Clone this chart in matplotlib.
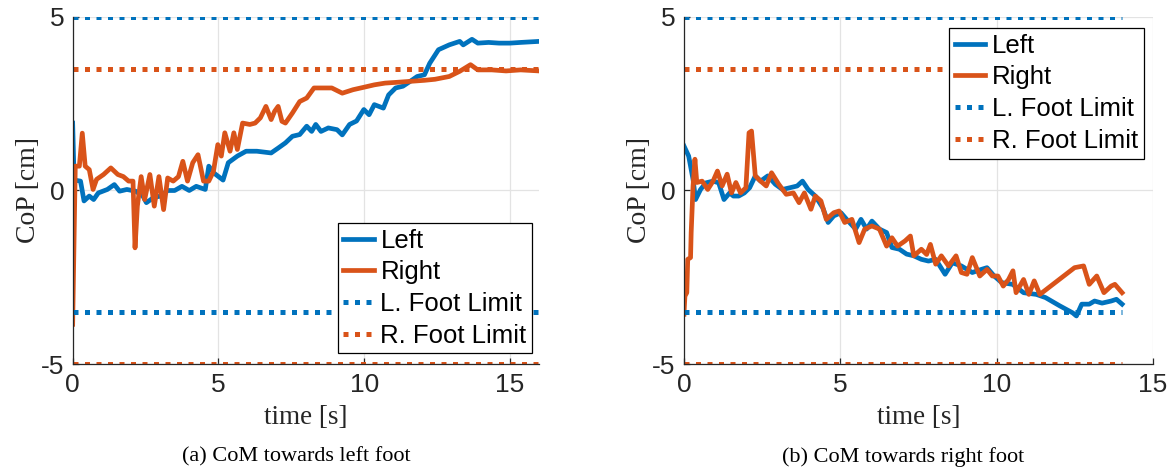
import matplotlib
matplotlib.use("Agg")
import matplotlib.pyplot as plt

# ---- data: (a) CoM towards left foot ----
t_a = [0.0, 0.05, 0.27, 0.39, 0.57, 0.72, 0.88, 1.19, 1.43, 1.61, 1.86, 2.16, 2.41, 2.53, 2.78,
       3.02, 3.26, 3.5, 3.75, 4.0, 4.24, 4.55, 4.67, 4.85, 5.16, 5.34, 5.65, 5.95, 6.32, 6.81,
       7.05, 7.3, 7.54, 7.79, 8.03, 8.2, 8.34, 8.52, 8.77, 9.07, 9.25, 9.5, 9.74, 9.99, 10.17,
       10.35, 10.66, 10.84, 11.08, 11.33, 11.58, 11.82, 12.07, 12.25, 12.55, 12.92, 13.28, 13.4,
       13.7, 13.9, 14.27, 14.63, 15.0, 15.37, 16.0]
left_a = [1.94, 0.3, 0.27, -0.3, -0.16, -0.26, -0.07, 0.03, 0.17, -0.02, 0.03, -0.02, -0.16, -0.35,
          -0.2, -0.16, 0.0, 0.0, 0.12, 0.0, 0.12, 0.03, 0.7, 0.5, 0.3, 0.8, 0.99, 1.13, 1.13, 1.08,
          1.22, 1.37, 1.56, 1.61, 1.85, 1.7, 1.9, 1.7, 1.8, 1.75, 1.6, 1.9, 2.0, 2.33, 2.18,
          2.47, 2.37, 2.75, 2.95, 3.0, 3.14, 3.28, 3.33, 3.66, 4.05, 4.19, 4.29, 4.19,
          4.35, 4.24, 4.26, 4.24, 4.24, 4.26, 4.29]
tr_a = [0.0, 0.09, 0.23, 0.33, 0.43, 0.57, 0.7, 0.82, 1.06, 1.31, 1.55, 1.74, 1.92, 2.07, 2.14,
        2.22, 2.35, 2.47, 2.65, 2.8, 2.96, 3.12, 3.26, 3.45, 3.63, 3.78, 3.94, 4.12, 4.3, 4.49,
        4.67, 4.83, 4.98, 5.1, 5.22, 5.4, 5.53, 5.65, 5.83, 6.08, 6.26, 6.44, 6.63, 6.81, 6.93,
        7.05, 7.18, 7.3, 7.54, 7.79, 8.03, 8.28, 8.52, 8.89, 9.25, 9.62, 9.99, 10.35, 10.72,
        11.08, 11.58, 12.07, 12.43, 12.92, 13.28, 13.65, 13.9, 14.38, 14.87, 15.37, 16.0]
right_a = [-3.85, 0.7, 0.7, 1.65, 0.7, 0.6, 0.03, 0.32, 0.46, 0.65, 0.46, 0.4, 0.27, 0.27, -1.65,
           -0.45, 0.4, -0.26, 0.46, -0.45, 0.4, -0.55, 0.36, 0.27, 0.4, 0.84, 0.27, 0.8, 1.03, 0.27,
           0.27, 0.55, 1.32, 0.99, 1.66, 1.13, 1.66, 1.18, 1.94, 1.9, 1.94, 2.09, 2.42, 2.04, 2.28,
           2.42, 1.99, 1.94, 2.23, 2.56, 2.66, 2.95, 2.95, 2.95, 2.8, 2.9, 2.97, 3.04, 3.09,
           3.11, 3.14, 3.17, 3.2, 3.28, 3.43, 3.62, 3.47, 3.47, 3.44, 3.47, 3.44]

# ---- data: (b) CoM towards right foot ----
t_b = [0.0, 0.15, 0.29, 0.37, 0.53, 0.7, 0.93, 1.11, 1.28, 1.46, 1.58, 1.75, 1.93, 2.1, 2.28,
       2.45, 2.68, 2.92, 3.15, 3.39, 3.62, 3.79, 3.97, 4.2, 4.44, 4.61, 4.79, 5.02, 5.25, 5.49,
       5.66, 5.84, 6.01, 6.25, 6.48, 6.65, 6.89, 7.12, 7.35, 7.59, 7.82, 8.05, 8.35, 8.58, 8.87,
       9.22, 9.51, 9.69, 9.92, 10.16, 10.51, 10.86, 11.27, 11.56, 12.02, 12.43, 12.55, 12.72,
       12.96, 13.13, 13.37, 13.66, 13.83, 14.01]
left_b = [1.28, 0.99, 0.32, -0.26, 0.03, 0.22, 0.27, 0.22, -0.26, -0.07, -0.16, -0.16, -0.07, 0.08,
          0.42, 0.27, 0.42, 0.18, 0.03, 0.08, 0.13, 0.27, 0.03, -0.16, -0.5, -0.92, -0.73, -0.64,
          -0.88, -1.11, -0.83, -1.11, -0.88, -1.11, -1.21, -1.64, -1.69, -1.83, -1.88, -1.98,
          -2.03, -1.98, -2.41, -2.08, -2.17, -2.36, -2.27, -2.22, -2.46, -2.65, -2.7, -2.94,
          -2.99, -3.08, -3.32, -3.52, -3.61, -3.27, -3.27, -3.18, -3.24, -3.18, -3.13, -3.27]
tr_b = [0.0, 0.03, 0.09, 0.12, 0.21, 0.23, 0.29, 0.35, 0.41, 0.58, 0.76, 0.93, 1.07, 1.22, 1.38,
        1.52, 1.66, 1.81, 1.98, 2.08, 2.16, 2.28, 2.45, 2.63, 2.8, 3.03, 3.27, 3.5, 3.68, 3.85,
        4.06, 4.2, 4.38, 4.55, 4.79, 4.96, 5.14, 5.37, 5.6, 5.78, 6.01, 6.25, 6.48, 6.65, 6.83,
        7.07, 7.24, 7.35, 7.59, 7.76, 7.88, 8.05, 8.23, 8.46, 8.7, 8.87, 9.05, 9.22, 9.46, 9.69,
        9.86, 10.04, 10.21, 10.38, 10.52, 10.62, 10.86, 11.03, 11.2, 11.38, 12.49, 12.78, 12.96,
        13.2, 13.43, 13.66, 13.78, 14.01]
right_b = [-3.56, -3.04, -2.94, -1.98, -1.93, -1.21, 0.13, 0.9, 0.23, 0.27, 0.03, 0.27, 0.56, 0.13,
           0.47, -0.07, 0.23, -0.07, 0.08, 1.66, 1.71, 0.42, 0.27, 0.13, 0.51, 0.18, -0.11, -0.07,
           -0.35, -0.07, -0.54, -0.16, -0.3, -0.83, -0.64, -0.59, -0.92, -0.83, -1.5, -1.11, -1.02,
           -1.11, -1.6, -1.36, -1.6, -1.45, -1.31, -1.88, -1.69, -1.84, -1.55, -2.12, -1.88, -2.17,
           -1.88, -2.36, -2.41, -1.93, -2.46, -2.27, -2.46, -2.46, -2.75, -2.56, -2.31, -2.94,
           -2.56, -2.99, -2.6, -2.99, -2.22, -2.17, -2.7, -2.46, -2.94, -2.75, -2.7, -2.94]

l_foot_limit = [5.0, -3.5]
r_foot_limit = [3.5, -5.0]

panels = [
    dict(t_l=t_a, l=left_a, t_r=tr_a, r=right_a, xmax=16, xticks=[0, 5, 10, 15],
         rect=[0.0621, 0.2216, 0.3986, 0.7427], cap="(a) CoM towards left foot", capx=0.253,
         leg=(0.2885, 0.5235)),
    dict(t_l=t_b, l=left_b, t_r=tr_b, r=right_b, xmax=15, xticks=[0, 5, 10, 15],
         rect=[0.5846, 0.2216, 0.4009, 0.7427], cap="(b) CoM towards right foot", capx=0.772,
         leg=(0.811, 0.940)),
]

blue = "#0072BD"
orange = "#D95319"
sans = "Liberation Sans"
serif = "Liberation Serif"

fig = plt.figure(figsize=(11.7, 4.68), dpi=100)

for p in panels:
    ax = fig.add_axes(p["rect"])
    ax.grid(True, color="#e3e3e3", lw=0.9)
    ax.set_axisbelow(True)
    h1, = ax.plot(p["t_l"], p["l"], color=blue, lw=3.4, label="Left")
    h2, = ax.plot(p["t_r"], p["r"], color=orange, lw=3.4, label="Right")
    tend = p["t_l"][-1]
    limit_handles = []
    for vals, col, name in [(l_foot_limit, blue, "L. Foot Limit"),
                            (r_foot_limit, orange, "R. Foot Limit")]:
        hs = [ax.plot([0, tend], [v, v], color=col, lw=3.6, dashes=(1, 1.3),
                      dash_capstyle="butt")[0] for v in vals]
        hs[0].set_label(name)
        limit_handles.append(hs[0])
    ax.set_xlim(0, p["xmax"])
    ax.set_ylim(-5, 5)
    ax.set_xticks(p["xticks"])
    ax.set_yticks([-5, 0, 5])
    ax.set_yticklabels(["-5", "0", "5"])
    for s in ["top", "right"]:
        ax.spines[s].set_visible(False)
    for s in ["left", "bottom"]:
        ax.spines[s].set_color("#262626")
        ax.spines[s].set_linewidth(0.9)
    ax.tick_params(direction="in", length=4, width=0.9, color="#262626",
                   labelsize=19, pad=6)
    for lab in ax.get_xticklabels() + ax.get_yticklabels():
        lab.set_fontfamily(sans)
        lab.set_color("#262626")
    ax.set_xlabel("time [s]", fontsize=19.5, family=serif, labelpad=6, color="#262626")
    ax.set_ylabel("CoP [cm]", fontsize=20, family=serif, labelpad=0, color="#262626")
    leg = fig.legend(handles=[h1, h2] + limit_handles, loc="upper left", bbox_to_anchor=p["leg"],
                     prop={"family": sans, "size": 18.5}, frameon=True, fancybox=False,
                     framealpha=1, edgecolor="black", handlelength=1.2, handletextpad=0.25,
                     labelspacing=0.3, borderpad=0.22, borderaxespad=0)
    leg.get_frame().set_linewidth(0.9)
    fig.text(p["capx"], 1 - 457 / 468, p["cap"], ha="center", va="center",
             fontsize=16, family=serif)

fig.savefig("out.png", dpi=100)
